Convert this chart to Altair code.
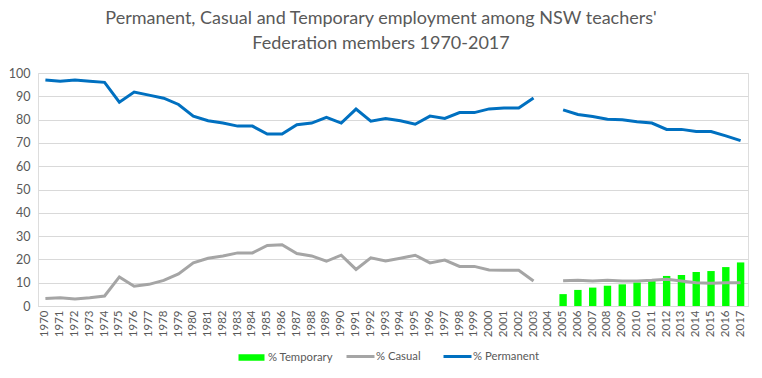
import altair as alt
import pandas as pd

years = [str(y) for y in range(1970, 2018)]

permanent = [97, 96.5, 97, 96.5, 96, 87.5, 91.8, 90.5, 89.2, 86.5,
             81.5, 79.5, 78.5, 77.2, 77.2, 73.8, 73.8, 77.8, 78.5, 81,
             78.5, 84.5, 79.3, 80.5, 79.5, 78, 81.5, 80.5, 83, 83,
             84.6, 85, 85, 89.3, None, 84.2, 82.2, 81.3, 80.2, 79.9,
             79.1, 78.5, 75.8, 75.8, 74.9, 74.9, 73, 71]

casual = [3.2, 3.5, 3, 3.5, 4.3, 12.5, 8.5, 9.3, 11, 13.8,
          18.5, 20.5, 21.5, 22.8, 22.8, 26, 26.3, 22.5, 21.5, 19.2,
          21.8, 15.7, 20.7, 19.3, 20.5, 21.8, 18.5, 19.7, 17, 17,
          15.5, 15.3, 15.3, 10.7, None, 10.8, 11, 10.7, 11, 10.7,
          10.7, 11, 11.5, 10.7, 10, 9.8, 10, 10]

temp_years = [str(y) for y in range(2005, 2018)]
temporary = [5.1, 6.9, 7.9, 8.7, 9.3, 10.1, 10.9, 12.9, 13.3, 14.6, 15, 16.7, 18.7]

FONT = "Lato"
GREY = "#595959"
GREEN = "#00FF00"

rows = []
for name, vals in [("% Casual", casual), ("% Permanent", permanent)]:
    for y, v in zip(years, vals):
        if v is None:
            continue
        seg = 0 if int(y) < 2004 else 1
        rows.append({"year": y, "value": v, "series": name, "seg": f"{name}-{seg}"})
lines_df = pd.DataFrame(rows)
bars_df = pd.DataFrame({"year": temp_years, "value": temporary, "series": "% Temporary"})

x_scale = alt.Scale(domain=years, paddingInner=0.5, paddingOuter=0.25)
x_axis = alt.Axis(title=None, labelAngle=-90, labelFontSize=11.5, labelColor=GREY,
                  labelFont=FONT, ticks=False, domainColor="#d9d9d9", labelPadding=4,
                  labelOverlap=False)
y_scale = alt.Scale(domain=[0, 100])
y_axis = alt.Axis(title=None, values=list(range(0, 101, 10)), labelFontSize=12.5,
                  labelColor=GREY, labelFont=FONT, ticks=False, domain=False,
                  gridColor="#d9d9d9", labelPadding=8, labelOverlap=False)

bars = alt.Chart(bars_df).mark_bar().encode(
    x=alt.X("year:O", scale=x_scale, axis=x_axis),
    y=alt.Y("value:Q", scale=y_scale, axis=y_axis),
    fill=alt.Fill("series:N", scale=alt.Scale(domain=["% Temporary"], range=[GREEN]),
                  legend=alt.Legend(title=None, orient="none", legendX=197, legendY=268,
                                    direction="horizontal", symbolType="stroke",
                                    symbolSize=676, symbolStrokeWidth=6.5,
                                    symbolStrokeColor=GREEN,
                                    labelFontSize=11.3, labelColor=GREY,
                                    labelFont=FONT, labelOffset=0)),
)

lines = alt.Chart(lines_df).mark_line(strokeWidth=3).encode(
    x=alt.X("year:O", scale=x_scale, axis=x_axis),
    y=alt.Y("value:Q", scale=y_scale, axis=y_axis),
    detail="seg:N",
    stroke=alt.Stroke("series:N", scale=alt.Scale(domain=["% Casual", "% Permanent"],
                                                  range=["#A5A5A5", "#0070C0"]),
                      legend=alt.Legend(title=None, orient="none", legendX=307, legendY=268,
                                        direction="horizontal", symbolType="stroke",
                                        symbolSize=784, symbolStrokeWidth=3, columnPadding=16,
                                        gridAlign="none",
                                        labelFontSize=11.3, labelColor=GREY, labelFont=FONT,
                                        labelOffset=0)),
)

chart = alt.layer(bars, lines).resolve_scale(fill="independent", stroke="independent").properties(
    width=710, height=233,
    autosize=alt.AutoSizeParams(type="none"),
    padding={"left": 30, "top": 65, "right": 6, "bottom": 70},
    title=alt.TitleParams(
        text=["Permanent, Casual and Temporary employment among NSW teachers'",
              "Federation members 1970-2017"],
        fontSize=18, font=FONT, fontWeight="normal", color=GREY, anchor="middle",
        dx=-12, offset=14, lineHeight=25),
).configure_view(stroke=None).configure(background="white")

chart.save("out.html", embed_options={"renderer": "svg", "actions": False})
